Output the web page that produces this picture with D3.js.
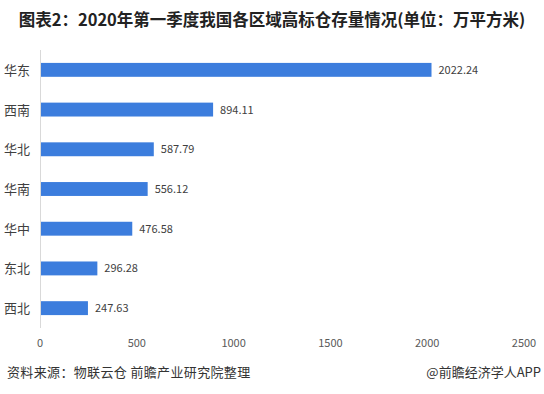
<!DOCTYPE html>
<html><head><meta charset="utf-8">
<script src="https://cdn.jsdelivr.net/npm/d3@7"></script>
<style>body{margin:0;background:#fff;}svg{display:block;}</style>
</head><body>
<svg id="c" width="544" height="394"></svg>
<script>
const categories = ["华东","西南","华北","华南","华中","东北","西北"];
const values = [2022.24, 894.11, 587.79, 556.12, 476.58, 296.28, 247.63];
const tickValues = [0, 500, 1000, 1500, 2000, 2500];
const title = "图表2：2020年第一季度我国各区域高标仓存量情况(单位：万平方米)";
const source = "资料来源：物联云仓 前瞻产业研究院整理";
const brand = "@前瞻经济学人APP";

const svg = d3.select("#c");
const font = "'Microsoft YaHei','Noto Sans CJK SC',sans-serif";
svg.append("rect").attr("width",544).attr("height",394).attr("fill","#fff");

const x = d3.scaleLinear().domain([0,2500]).range([40,524]);
const y = d3.scaleBand().domain(categories).range([50,328]).paddingInner(0.65).paddingOuter(0.325);

svg.append("text").attr("x",272).attr("y",26).attr("text-anchor","middle")
  .attr("font-family",font).attr("font-weight","bold").attr("font-size",16.5)
  .attr("fill","#222").text(title);

svg.append("line").attr("x1",40.5).attr("x2",40.5).attr("y1",50).attr("y2",328)
  .attr("stroke","#d9d9d9").attr("stroke-width",1);

svg.selectAll("rect.bar").data(values).join("rect").attr("class","bar")
  .attr("x",x(0)+1).attr("y",(d,i)=>y(categories[i]))
  .attr("width",d=>x(d)-x(0)-1).attr("height",y.bandwidth())
  .attr("fill","#3c7ddd");

svg.selectAll("text.val").data(values).join("text").attr("class","val")
  .attr("x",d=>x(d)+7).attr("y",(d,i)=>y(categories[i])+y.bandwidth()/2+4)
  .attr("font-family",font).attr("font-size",11).attr("fill","#404040")
  .text(d=>d.toFixed(2));

svg.selectAll("text.cat").data(categories).join("text").attr("class","cat")
  .attr("x",30).attr("y",d=>y(d)+y.bandwidth()/2+5).attr("text-anchor","end")
  .attr("font-family",font).attr("font-size",13).attr("fill","#404040").text(d=>d);

svg.selectAll("text.tick").data(tickValues).join("text").attr("class","tick")
  .attr("x",d=>x(d)).attr("y",347).attr("text-anchor","middle")
  .attr("font-family",font).attr("font-size",11).attr("fill","#595959").text(d=>d);

svg.append("text").attr("x",7).attr("y",377).attr("font-family",font)
  .attr("font-size",13).attr("fill","#333").attr("letter-spacing",0.35).text(source);
svg.append("text").attr("x",541).attr("y",377).attr("text-anchor","end").attr("font-family",font)
  .attr("font-size",13).attr("fill","#333").text(brand);
</script>
</body></html>
